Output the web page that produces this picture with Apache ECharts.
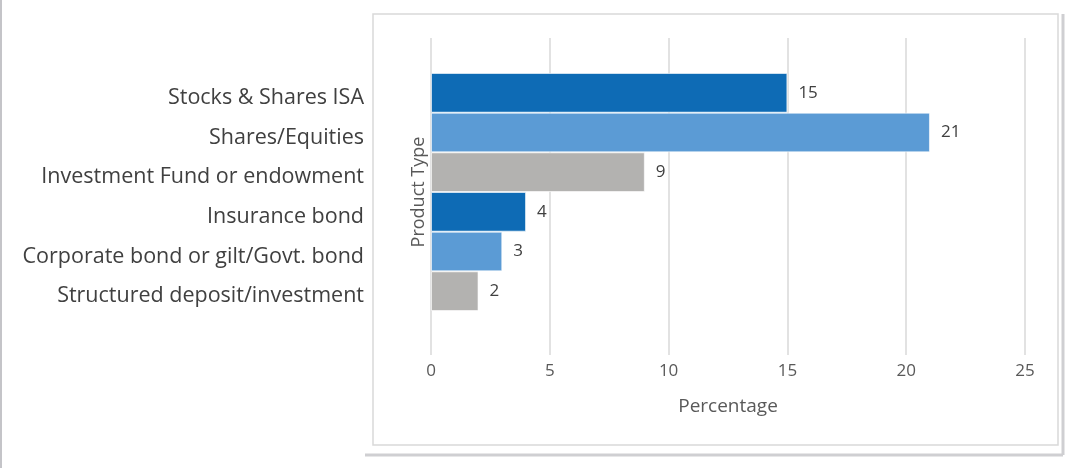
<!DOCTYPE html>
<html>
<head>
<meta charset="utf-8">
<script src="https://cdn.jsdelivr.net/npm/echarts@6/dist/echarts.min.js"></script>
<style>
html, body { margin: 0; padding: 0; background: #fff; }
#chart { width: 1086px; height: 468px; }
</style>
</head>
<body>
<div id="chart"></div>
<script>
const categories = [
  'Stocks & Shares ISA',
  'Shares/Equities',
  'Investment Fund or endowment',
  'Insurance bond',
  'Corporate bond or gilt/Govt. bond',
  'Structured deposit/investment'
];
const values = [15, 21, 9, 4, 3, 2];
const barColors = ['#0E6BB5', '#5B9BD5', '#B3B2B0', '#0E6BB5', '#5B9BD5', '#B3B2B0'];
const xTicks = { min: 0, max: 25, step: 5 };

const chart = echarts.init(document.getElementById('chart'));
const font = '"Open Sans", "Noto Sans", sans-serif';

let option = {
  animation: false,
  textStyle: { fontFamily: font },
  graphic: [
    // page edge
    { type: 'line', shape: { x1: 1, y1: 0, x2: 1, y2: 468 }, style: { stroke: '#c4c4c8', lineWidth: 2 } },
    // chart box shadow
    { type: 'line', shape: { x1: 365, y1: 455, x2: 1063, y2: 455 }, style: { stroke: '#cfcfd2', lineWidth: 3 } },
    { type: 'line', shape: { x1: 1063, y1: 14, x2: 1063, y2: 455 }, style: { stroke: '#cfcfd2', lineWidth: 3 } },
    // chart box
    { type: 'rect', shape: { x: 373, y: 14, width: 685, height: 431 }, style: { fill: 'none', stroke: '#d9d9d9', lineWidth: 1.5 }, z: -1 },
    // y axis title
    {
      type: 'text',
      x: 419, y: 192,
      rotation: Math.PI / 2,
      style: {
        text: 'Product Type',
        fill: '#595959',
        font: '18px ' + font,
        align: 'center',
        verticalAlign: 'middle'
      }
    }
  ],
  grid: [
    { left: 431, right: 61, top: 38, bottom: 113 },
    { left: 431, right: 61, top: 73, bottom: 157 }
  ],
  xAxis: [
    {
      gridIndex: 0,
      type: 'value',
      min: xTicks.min,
      max: xTicks.max,
      interval: xTicks.step,
      axisLine: { show: false },
      axisTick: { show: false },
      splitLine: { lineStyle: { color: '#d9d9d9', width: 1.5 } },
      axisLabel: { color: '#595959', fontSize: 17, margin: 8 },
      name: 'Percentage',
      nameLocation: 'middle',
      nameGap: 42,
      nameTextStyle: { color: '#595959', fontSize: 19 }
    },
    {
      gridIndex: 1,
      type: 'value',
      min: xTicks.min,
      max: xTicks.max,
      show: false
    }
  ],
  yAxis: [
    {
      gridIndex: 0,
      type: 'value',
      show: false
    },
    {
      gridIndex: 1,
      type: 'category',
      inverse: true,
      data: categories,
      axisLine: { show: false },
      axisTick: { show: false },
      axisLabel: {
        margin: 67,
        formatter: v => '{c|' + v + '}',
        rich: { c: { color: '#404040', fontSize: 21.5, padding: [10, 0, 0, 0] } }
      }
    }
  ],
  series: [
    {
      type: 'bar',
      xAxisIndex: 1,
      yAxisIndex: 1,
      barCategoryGap: '0%',
      data: values.map((v, i) => ({ value: v, itemStyle: { color: barColors[i] } })),
      itemStyle: { borderColor: 'rgba(255,255,255,0.6)', borderWidth: 1 },
      label: {
        show: true,
        position: 'right',
        distance: 11,
        color: '#404040',
        fontSize: 17
      }
    }
  ]
};
chart.setOption(option);
</script>
</body>
</html>
